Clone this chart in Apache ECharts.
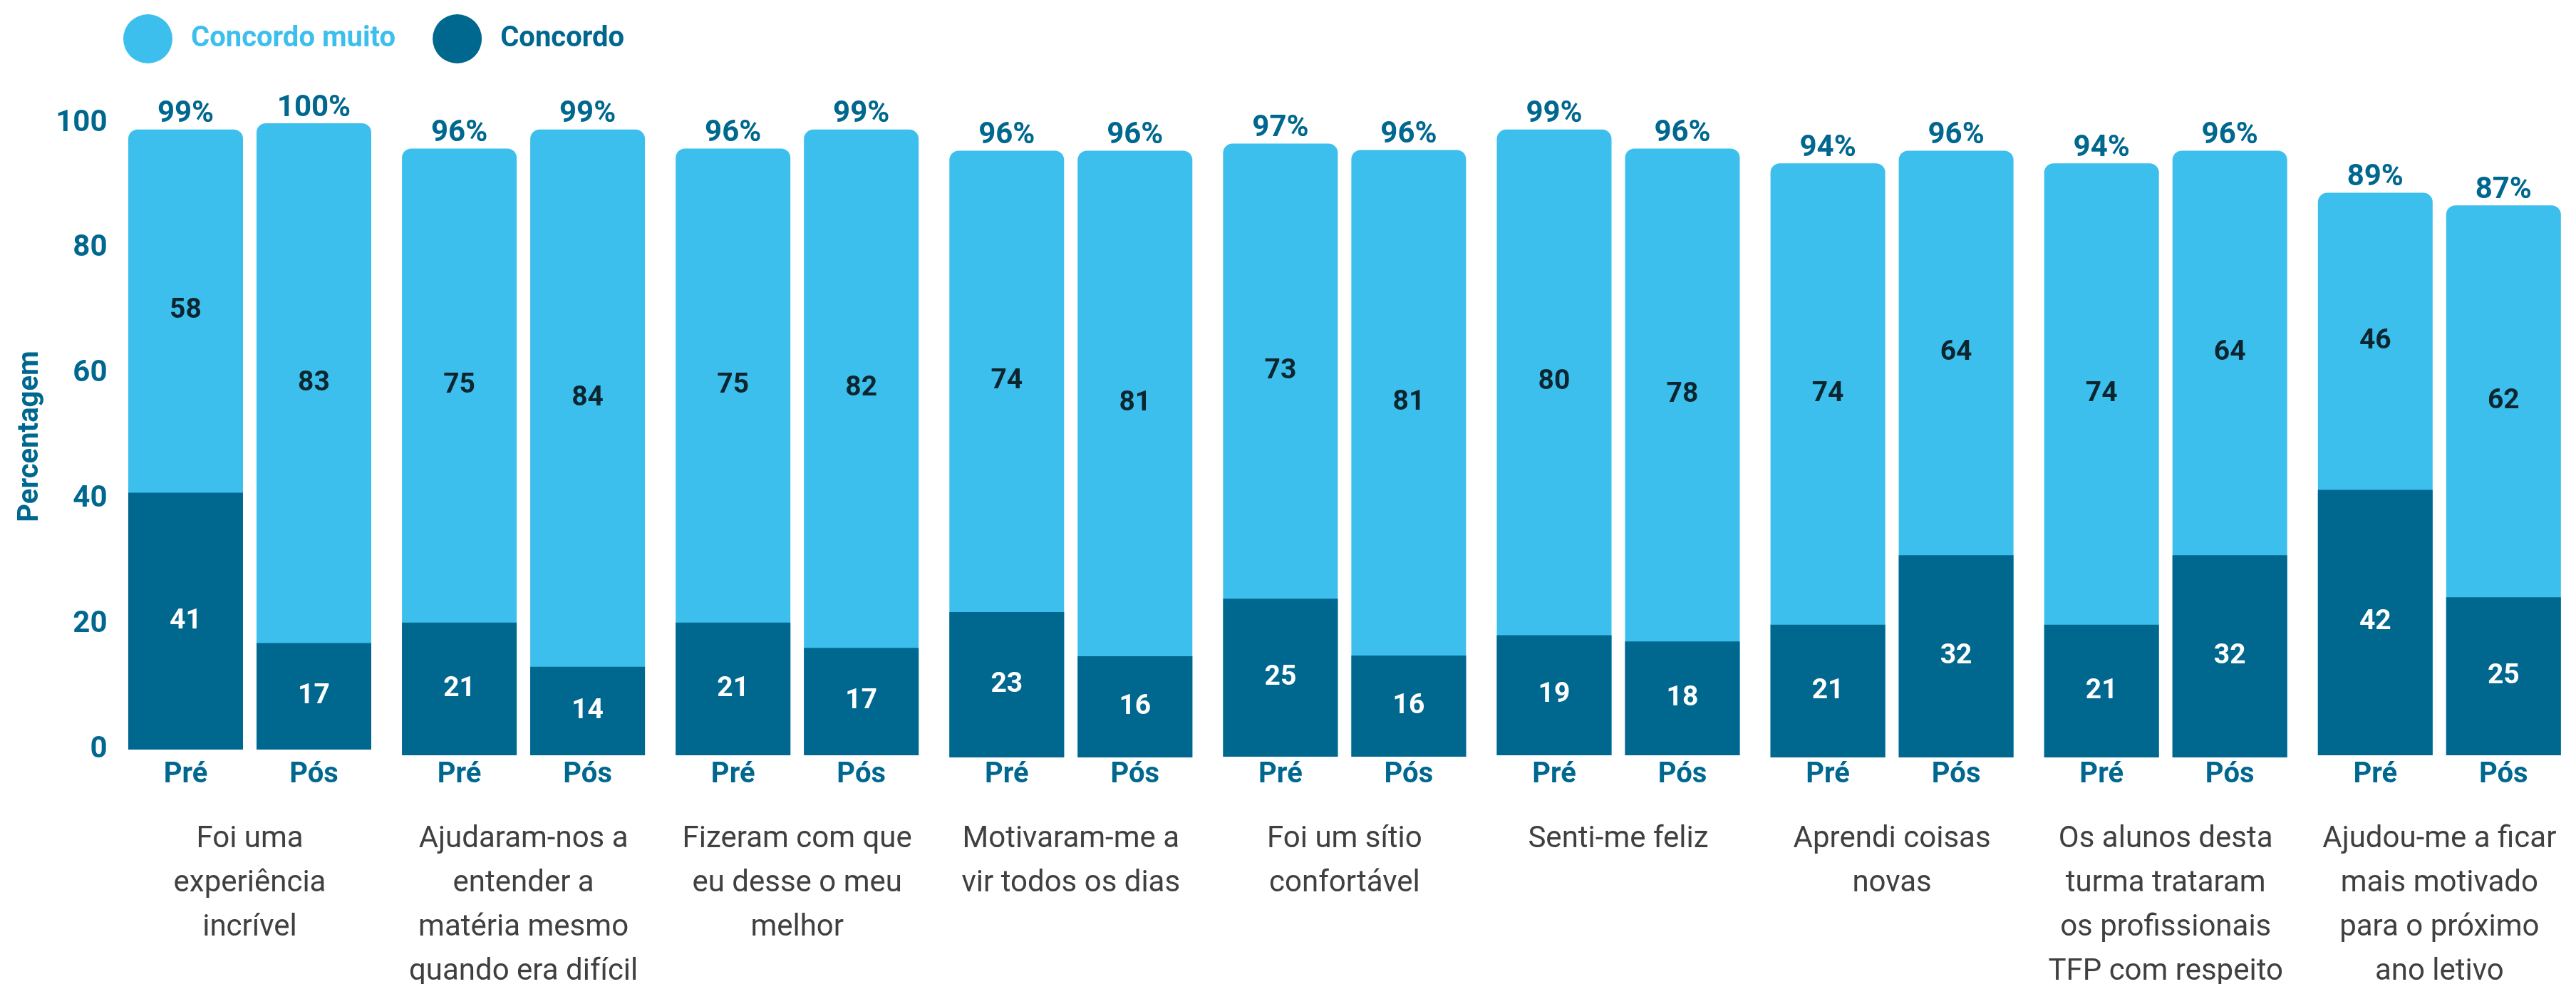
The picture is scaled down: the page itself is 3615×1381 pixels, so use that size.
<!DOCTYPE html>
<html>
<head>
<meta charset="utf-8">
<script src="https://cdn.jsdelivr.net/npm/echarts@6/dist/echarts.min.js"></script>
<style>
html,body{margin:0;padding:0;background:#fff;}
#chart{width:3615px;height:1381px;}
</style>
</head>
<body>
<div id="chart"></div>
<script>
// ---- data ----
const categories = [
  'Foi uma\nexperiência\nincrível',
  'Ajudaram-nos a\nentender a\nmatéria mesmo\nquando era difícil',
  'Fizeram com que\neu desse o meu\nmelhor',
  'Motivaram-me a\nvir todos os dias',
  'Foi um sítio\nconfortável',
  'Senti-me feliz',
  'Aprendi coisas\nnovas',
  'Os alunos desta\nturma trataram\nos profissionais\nTFP com respeito',
  'Ajudou-me a ficar\nmais motivado\npara o próximo\nano letivo'
];
const phases = ['Pré', 'Pós'];
const concordoPre = [41, 21, 21, 23, 25, 19, 21, 21, 42];
const concordoPos = [17, 14, 17, 16, 16, 18, 32, 32, 25];
const muitoPre    = [58, 75, 75, 74, 73, 80, 74, 74, 46];
const muitoPos    = [83, 84, 82, 81, 81, 78, 64, 64, 62];
const totalPre    = [99, 96, 96, 96, 97, 99, 94, 94, 89];
const totalPos    = [100, 99, 99, 96, 96, 96, 96, 96, 87];
const yTicks = [0, 20, 40, 60, 80, 100];

// ---- layout / style ----
const DARK = '#00678f';
const LIGHT = '#3dbfee';
const FONT = 'Roboto';
const baselines = [1052, 1060, 1060, 1063, 1062, 1060, 1063, 1063, 1060];
const pxPerUnit = [8.79, 8.87, 8.87, 8.87, 8.87, 8.87, 8.87, 8.87, 8.87];
const pitch = 384.1, firstLeft = 170.5, gridW = 360;
const phaseLabelY = 1088, catLabelTop = 1147;

const grid = [], xAxis = [], yAxis = [], series = [];
categories.forEach((cat, i) => {
  const h = 100 * pxPerUnit[i];
  grid.push({ left: firstLeft + i * pitch, width: gridW, top: baselines[i] - h, height: h,
    containLabel: false, outerBoundsMode: 'none' });
  xAxis.push({
    gridIndex: i, type: 'category', data: phases, position: 'bottom',
    axisLine: { show: false }, axisTick: { show: false },
    axisLabel: { margin: phaseLabelY - baselines[i], verticalAlign: 'middle', fontSize: 40, fontWeight: 'bold', color: DARK, fontFamily: FONT }
  });
  xAxis.push({
    gridIndex: i, type: 'category', data: [cat], position: 'bottom',
    axisLine: { show: false }, axisTick: { show: false },
    axisLabel: { interval: 0, margin: catLabelTop - baselines[i], verticalAlign: 'top', lineHeight: 62, fontSize: 42, color: '#404040', fontFamily: FONT, align: 'center' }
  });
  yAxis.push({
    gridIndex: i, type: 'value', min: 0, max: 100, interval: 20, show: i === 0,
    axisLine: { show: false }, axisTick: { show: false }, splitLine: { show: false },
    axisLabel: { margin: 20, fontSize: 42, fontWeight: 'bold', color: DARK, fontFamily: FONT,
      formatter: v => yTicks.includes(v) ? String(v) : '' },
    name: i === 0 ? 'Percentagem' : '', nameLocation: 'middle', nameGap: 108, nameRotate: 90,
    nameTextStyle: { fontSize: 40, fontWeight: 'bold', color: DARK, fontFamily: FONT }
  });
  const xi = 2 * i;
  series.push({
    type: 'bar', name: 'Concordo muito', xAxisIndex: xi, yAxisIndex: i,
    data: [totalPre[i], totalPos[i]], barWidth: 161, barGap: '-100%',
    itemStyle: { color: LIGHT, borderRadius: [13, 13, 0, 0] },
    label: { show: true, position: 'top', distance: 0, formatter: p => p.value + '%',
      fontSize: 42, fontWeight: 'bold', color: DARK, fontFamily: FONT },
    z: 1
  });
  series.push({
    type: 'bar', name: 'Concordo', xAxisIndex: xi, yAxisIndex: i,
    data: [concordoPre[i], concordoPos[i]], barWidth: 161, barGap: '-100%',
    itemStyle: { color: DARK },
    label: { show: true, position: 'inside', fontSize: 39, fontWeight: 'bold', color: '#ffffff', fontFamily: FONT },
    z: 2
  });
  const muito = [muitoPre[i], muitoPos[i]];
  series.push({
    type: 'scatter', name: 'lbl' + i, xAxisIndex: xi, yAxisIndex: i, silent: true,
    data: [[0, (concordoPre[i] + totalPre[i]) / 2], [1, (concordoPos[i] + totalPos[i]) / 2]],
    symbolSize: 1, itemStyle: { color: 'transparent' },
    label: { show: true, position: 'inside', formatter: p => String(muito[p.dataIndex]),
      fontSize: 39, fontWeight: 'bold', color: '#000000', fontFamily: FONT },
    z: 3
  });
});

const chart = echarts.init(document.getElementById('chart'), null, { renderer: 'canvas' });
chart.setOption({
  backgroundColor: '#ffffff',
  animation: false,
  legend: {
    left: 168, top: 15, icon: 'circle', itemWidth: 69, itemHeight: 69, itemGap: 52,
    data: [
      { name: 'Concordo muito', textStyle: { color: LIGHT } },
      { name: 'Concordo', textStyle: { color: DARK } }
    ],
    textStyle: { fontSize: 40, fontWeight: 'bold', fontFamily: FONT, padding: [0, 0, 20, 21] }
  },
  grid, xAxis, yAxis, series
});
</script>
</body>
</html>
